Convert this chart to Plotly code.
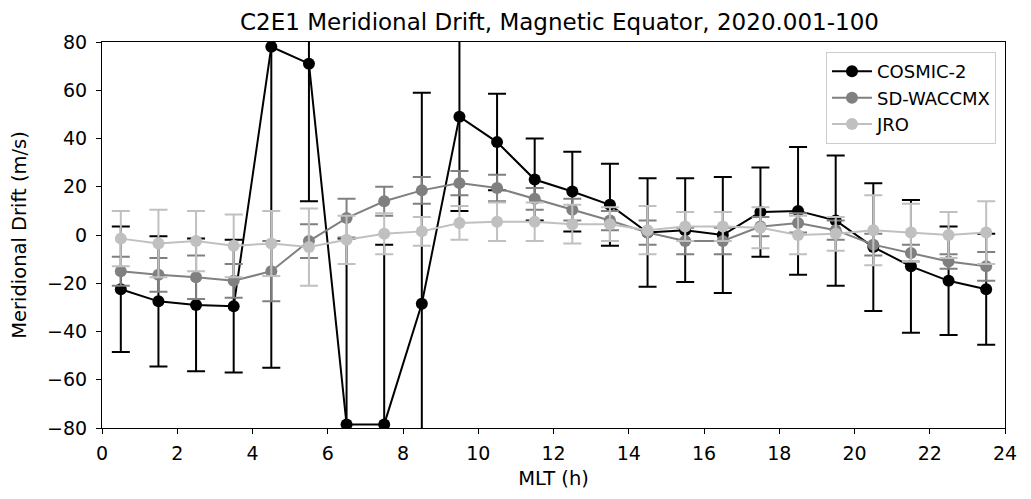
import plotly.graph_objects as go

# MLT bin centres (h)
mlt = [h + 0.5 for h in range(24)]

cosmic2 = [-22.5, -27.5, -29, -29.5, 78, 71, -78.5, -78.5, -28.5, 49, 38.5, 23,
           18, 12.5, 1, 2, 0, 9.5, 10, 6, -5, -13, -19, -22.5]
cosmic2_err = [26, 27, 27.5, 27.5, 133, 57, 77, 74.5, 87.5, 39, 20, 17,
               16.5, 17, 22.5, 21.5, 24, 18.5, 26.5, 27, 26.5, 27.5, 22.5, 23]

waccmx = [-15, -16.5, -17.5, -19, -15, -2.5, 7, 14, 18.5, 21.5, 19.5, 15,
          10.5, 6, 1, -2.5, -2.5, 3.5, 5, 2, -4, -7.5, -11, -13]
waccmx_err = [6, 7, 9, 7, 12.5, 7, 8, 6, 5.5, 5, 5.5, 4.5,
              4.5, 4, 5, 5.5, 5.5, 4, 4, 4, 4.5, 3.5, 3, 6]

jro = [-1.5, -3.5, -2.5, -4.5, -3.5, -5, -2, 0.5, 1.5, 5, 5.5, 5.5,
       4.5, 4.5, 2, 3.5, 3.5, 3, 0, 0.5, 2, 1, 0, 1]
jro_err = [11.5, 14, 12.5, 13, 13.5, 16, 10, 8.5, 6, 7, 8, 8,
           8, 7, 10, 6, 6, 8.5, 8, 7, 14.5, 12, 9.5, 13]

series = [
    ("COSMIC-2", cosmic2, cosmic2_err, "#000000"),
    ("SD-WACCMX", waccmx, waccmx_err, "#808080"),
    ("JRO", jro, jro_err, "#c0c0c0"),
]

fig = go.Figure()
for name, values, errors, color in series:
    fig.add_trace(
        go.Scatter(
            x=mlt,
            y=values,
            name=name,
            mode="lines+markers",
            line=dict(color=color, width=2),
            marker=dict(color=color, size=12),
            error_y=dict(type="data", array=errors, color=color, thickness=2, width=9),
        )
    )

axis_style = dict(
    showline=True,
    linecolor="black",
    linewidth=1,
    mirror=True,
    ticks="outside",
    ticklen=5,
    tickcolor="black",
    showgrid=False,
    zeroline=False,
    ticklabeloverflow="allow",
    tickfont=dict(size=19, color="black"),
)

# figure sized to fit inside the page body (8px default margin on each side)
fig_w, fig_h = 1015, 483
m_l, m_r = 94, 6
fig.update_layout(
    width=fig_w,
    height=fig_h,
    margin=dict(l=m_l, r=m_r, t=34, b=57),
    paper_bgcolor="white",
    plot_bgcolor="white",
    font=dict(family="DejaVu Sans", color="black"),
    title=dict(
        text="C2E1 Meridional Drift, Magnetic Equator, 2020.001-100",
        x=0.5 + (m_l - m_r) / 2 / fig_w,
        xanchor="center",
        yref="container",
        y=1 - 14 / fig_h,
        yanchor="middle",
        font=dict(size=23),
    ),
    xaxis=dict(
        range=[0, 24],
        dtick=2,
        ticklabelstandoff=3,
        title=dict(text="MLT (h)", font=dict(size=19.5), standoff=8),
        **axis_style,
    ),
    yaxis=dict(
        range=[-80, 80],
        dtick=20,
        ticklabelstandoff=5,
        title=dict(text="Meridional Drift (m/s)", font=dict(size=19.5), standoff=15),
        **axis_style,
    ),
    legend=dict(
        x=0.99,
        y=0.974,
        xanchor="right",
        yanchor="top",
        bgcolor="rgba(255,255,255,0.8)",
        bordercolor="#cccccc",
        borderwidth=1,
        itemwidth=40,
        font=dict(size=18),
    ),
)

fig.write_html("out.html", config={"displayModeBar": False})
